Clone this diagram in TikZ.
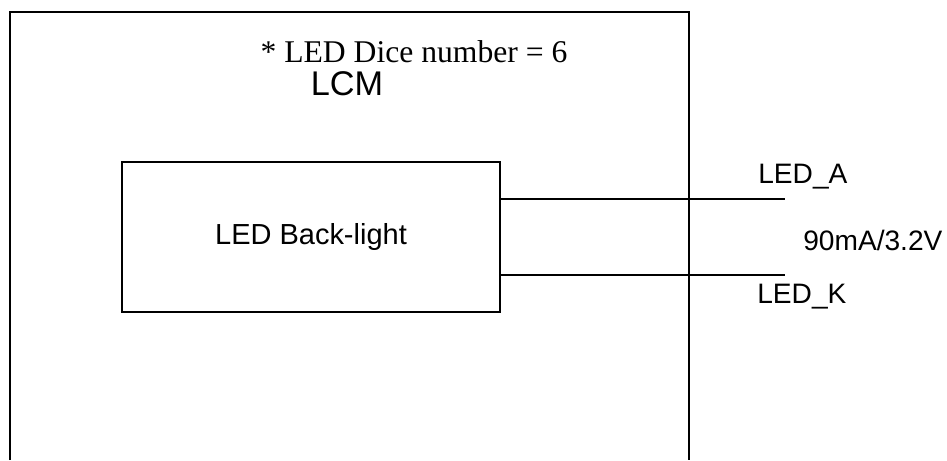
\documentclass[tikz,border=0pt]{standalone}
\usepackage{fontspec}
\setmainfont{Liberation Serif}
\setsansfont{Liberation Sans}
\usetikzlibrary{positioning}

\tikzset{
  frame/.style={line width=0.8pt},
  blbox/.style={draw,line width=0.8pt,minimum width=7.56cm,minimum height=3cm,font=\sffamily\fontsize{16.5}{18}\selectfont},
  pinlabel/.style={anchor=base west,inner sep=0pt,font=\sffamily\fontsize{16}{18}\selectfont}
}

\begin{document}
\begin{tikzpicture}[x=0.02cm,y=-0.02cm]
\useasboundingbox (0,0) rectangle (947,460);
% LCM outline, open at the bottom
\draw [frame] (10,460) -- (10,12) -- (689,12) -- (689,460);
\node [anchor=base,inner sep=0pt] (dice) at (414,62) {\fontsize{18}{20}\selectfont * LED Dice number = 6};
\node [anchor=base,inner sep=0pt] (lcm) at (347,95) {\sffamily\fontsize{19.5}{22}\selectfont LCM};

\node [blbox] (bl) at (311,237) {LED Back-light};

\coordinate (anode) at (785,199);
\coordinate (cathode) at (785,275);
\draw [line width=1.5pt] (bl.east |- anode) -- (anode);
\draw [line width=0.8pt] (bl.east |- cathode) -- (cathode);

\node [pinlabel] (la) at (758,183) {LED\_A};
\node [pinlabel] (cur) at (803,250) {90mA/3.2V};
\node [pinlabel] (lk) at (757,303) {LED\_K};
\end{tikzpicture}
\end{document}
